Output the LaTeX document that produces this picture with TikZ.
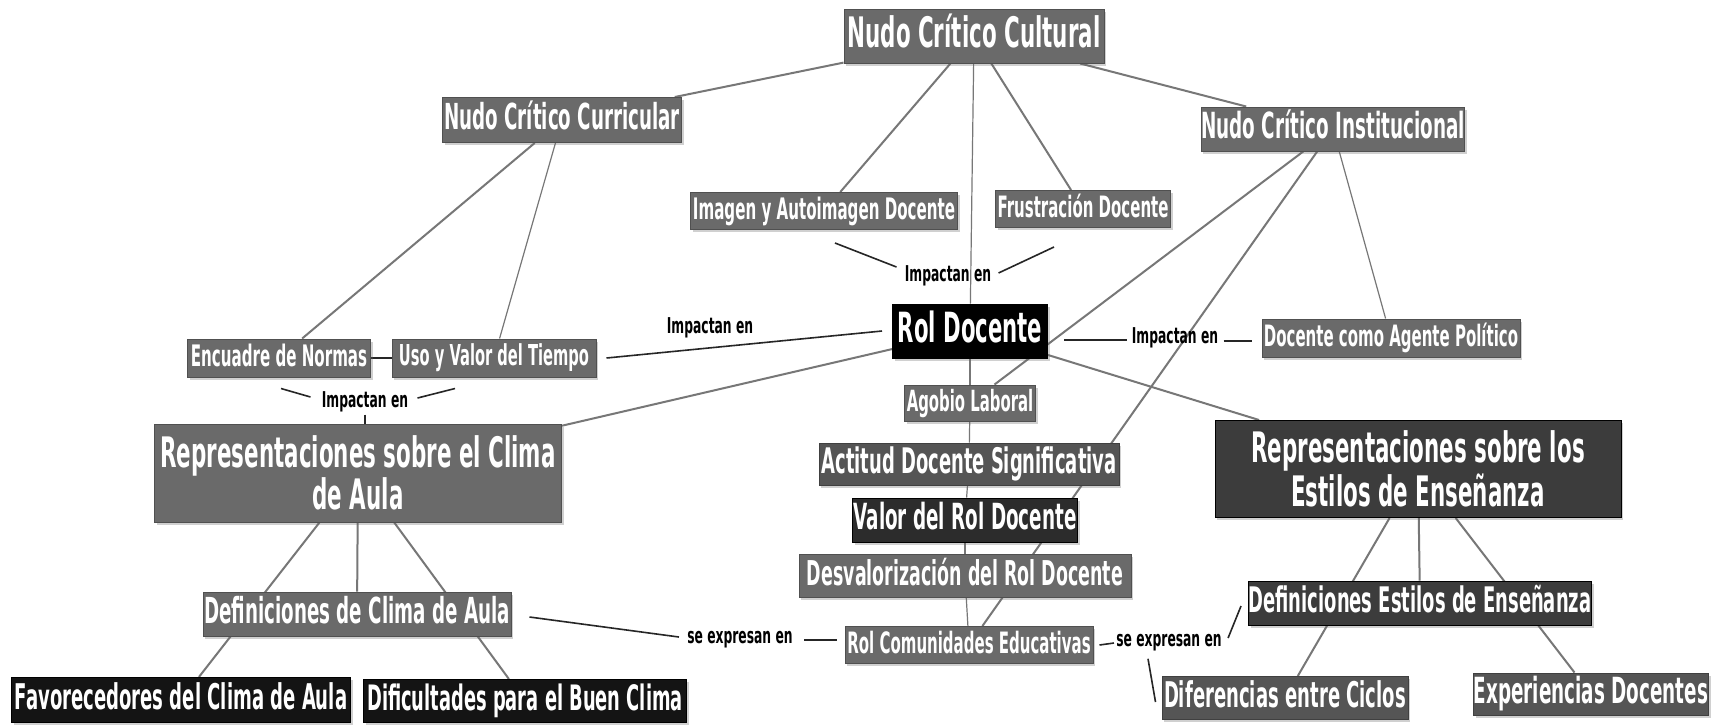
\documentclass[tikz,border=0pt]{standalone}
\usepackage{fontspec}
\newfontfamily\cf[FakeStretch=0.51]{DejaVu Sans}
\newfontfamily\lf[FakeStretch=0.565]{DejaVu Sans}
\usetikzlibrary{shadows,calc}
\pgfdeclarelayer{bg}
\pgfsetlayers{bg,main}
\newcommand\setfz[1]{\fontsize{#1}{#1}\selectfont}
\definecolor{gm}{HTML}{6A6A6A}
\definecolor{gmd}{HTML}{555555}
\definecolor{gd}{HTML}{3C3C3C}
\definecolor{gdd}{HTML}{2C2C2C}
\definecolor{gk}{HTML}{141414}
\definecolor{lg}{HTML}{777777}
\tikzset{
  nb/.style={rectangle, inner sep=0pt, text=white,
    drop shadow={shadow xshift=1pt, shadow yshift=-1.3pt, opacity=0.3, fill=black!60}},
  fs/.style={font=\cf\bfseries\setfz{#1}, text height={0.75*#1pt}, text depth={0.2*#1pt}},
  mid/.style={nb, fill=gm, draw=gm!75!black, line width=0.5pt},
  midd/.style={nb, fill=gmd, draw=gmd!75!black, line width=0.5pt},
  dark/.style={nb, fill=gd, draw=black, line width=0.5pt},
  darker/.style={nb, fill=gdd, draw=black, line width=0.5pt},
  blk/.style={nb, fill=gk, draw=black, line width=0.5pt},
  two/.style={align=center},
  lbl/.style={font=\lf\bfseries\setfz{10.9}, inner sep=1pt, text=black},
  ln/.style={draw=lg, line width=1pt},
  thn/.style={draw=lg, line width=0.6pt},
  lk/.style={draw=black!85, line width=0.8pt},
}
\begin{document}
\begin{tikzpicture}[x=0.5pt, y=-0.5pt]
\useasboundingbox (0,0) rectangle (1727,725);
% nodes
\node[mid, minimum width=130pt, minimum height=27pt, fs=21] (cult) at (974,36) {Nudo Crítico Cultural};
\node[mid, minimum width=119.5pt, minimum height=22.5pt, fs=17.9] (curr) at (562,120) {Nudo Crítico Curricular};
\node[mid, minimum width=131.5pt, minimum height=22pt, fs=18] (inst) at (1333,129) {Nudo Crítico Institucional};
\node[mid, minimum width=133.5pt, minimum height=18.5pt, fs=14.8] (img) at (824,211) {Imagen y Autoimagen Docente};
\node[mid, minimum width=87.5pt, minimum height=18.5pt, fs=14.7] (frus) at (1083,209) {Frustración Docente};
\node[blk, fill=black, minimum width=77.5pt, minimum height=27pt, fs=20.8] (rol) at (970,331) {Rol Docente};
\node[mid, minimum width=129pt, minimum height=19pt, fs=14.7] (agente) at (1391,338) {Docente como Agente Político};
\node[mid, minimum width=91.5pt, minimum height=19pt, fs=14.8] (enc) at (279,358) {Encuadre de Normas};
\node[mid, minimum width=102pt, minimum height=19pt, fs=14.4] (uso) at (494,358) {Uso y Valor del Tiempo};
\node[mid, minimum width=65.5pt, minimum height=18pt, fs=14.6] (agob) at (970,403) {Agobio Laboral};
\node[midd, minimum width=150pt, minimum height=21pt, fs=17.6] (act) at (969,464) {Actitud Docente Significativa};
\node[darker, minimum width=112.5pt, minimum height=22pt, fs=18] (valor) at (965,520) {Valor del Rol Docente};
\node[mid, minimum width=166pt, minimum height=21.5pt, fs=17.1] (desv) at (965,576) {Desvalorización del Rol Docente};
\node[mid, minimum width=124pt, minimum height=18.5pt, fs=14.7] (rolcom) at (969,645) {Rol Comunidades Educativas};
\node[mid, two, minimum width=203.5pt, minimum height=49pt, font=\cf\bfseries\fontsize{21}{19}\selectfont] (repclima) at (358,473) {Representaciones sobre el Clima\\de Aula};
\node[dark, two, minimum width=203pt, minimum height=48.5pt, font=\cf\bfseries\fontsize{21}{19.5}\selectfont] (repest) at (1418,469) {Representaciones sobre los\\Estilos de Enseñanza};
\node[mid, minimum width=154pt, minimum height=22pt, fs=17.9] (defclima) at (357,614) {Definiciones de Clima de Aula};
\node[dark, minimum width=171.5pt, minimum height=22pt, fs=17.6] (defest) at (1420,603) {Definiciones Estilos de Enseñanza};
\node[midd, minimum width=123pt, minimum height=21.5pt, fs=17.7] (dif) at (1285,698) {Diferencias entre Ciclos};
\node[midd, minimum width=117.5pt, minimum height=21pt, fs=18] (exp) at (1591,694) {Experiencias Docentes};
\node[blk, minimum width=169.5pt, minimum height=22.5pt, fs=17.7] (fav) at (181,700) {Favorecedores del Clima de Aula};
\node[blk, minimum width=161.5pt, minimum height=21.5pt, fs=17.5] (dific) at (525,701) {Dificultades para el Buen Clima};
% labels
\node[lbl] (lt) at (948,276) {Impactan en};
\node[lbl] (ll) at (710,328) {Impactan en};
\node[lbl] (lr) at (1175,338) {Impactan en};
\node[lbl] (lb) at (365,402) {Impactan en};
\node[lbl] (sl) at (740,640) {se expresan en};
\node[lbl] (sr) at (1169,643) {se expresan en};
% connectors
\begin{pgfonlayer}{bg}
\fill[white] (0,0) rectangle (1727,725);
\draw[ln] (cult) -- (curr);
\draw[ln] (cult) -- (img);
\draw[thn] (cult) -- (rol);
\draw[ln] (cult) -- (frus);
\draw[ln] (cult) -- (inst);
\draw[ln] (curr) -- (enc);
\draw[thn] (curr) -- (uso);
\draw[ln] (inst) -- (agob);
\draw[ln] (inst) -- (rolcom);
\draw[thn] (inst) -- (agente);
\draw[ln] (rol) -- (repclima);
\draw[ln] (rol) -- (repest);
\draw[thn] (rol) -- (agob);
\draw[thn] (agob) -- (act);
\draw[thn] (act) -- (valor);
\draw[thn] (valor) -- (desv);
\draw[thn] (desv) -- (rolcom);
\draw[ln] (repclima) -- (defclima);
\draw[ln] (repclima) -- (fav);
\draw[ln] (repclima) -- (dific);
\draw[ln] (repest) -- (defest);
\draw[ln] (repest) -- (dif);
\draw[ln] (repest) -- (exp);
\draw[lk] (enc) -- (uso);
\draw[lk] ([xshift=-5pt]rol.west) -- ([xshift=5pt]uso.east);
\draw[lk] ([shift={(11,13)}]img.south) -- ([shift={(-6,-9)}]lt.west);
\draw[lk] ([shift={(5,-3)}]lt.east) -- ([shift={(-29,19)}]frus.south);
\draw[lk] ([shift={(16,9)}]rol.east) -- ([shift={(-3,2)}]lr.west);
\draw[lk] ([shift={(3,3)}]lr.east) -- ([shift={(-10,3)}]agente.west);
\draw[lk] ([shift={(2,11)}]enc.south) -- ([shift={(-9,-5)}]lb.west);
\draw[lk] ([shift={(-39,11)}]uso.south) -- ([shift={(7,-4)}]lb.east);
\draw[lk] (lb.south) -- (lb.south |- repclima.north);
\draw[lk] ([shift={(18,3)}]defclima.east) -- ([shift={(-6,-3)}]sl.west);
\draw[lk] ([shift={(9,0)}]sl.east) -- ([shift={(-8,-5)}]rolcom.west);
\draw[lk] ([shift={(6,0)}]rolcom.east) -- (sr.west);
\draw[lk] ([shift={(4,-5)}]sr.east) -- ([shift={(-7,3)}]defest.west);
\draw[lk] ([shift={(-21,5)}]sr.south) -- ([shift={(-6,4)}]dif.west);
\end{pgfonlayer}
\end{tikzpicture}
\end{document}
